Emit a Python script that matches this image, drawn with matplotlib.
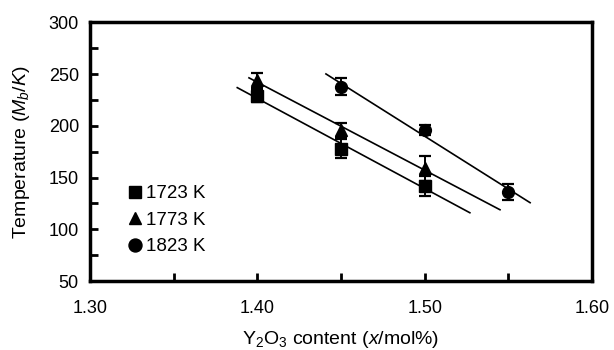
import numpy as np
import matplotlib
matplotlib.use('Agg')
import matplotlib.pyplot as plt
from matplotlib.ticker import MultipleLocator

plt.rcParams['font.family'] = ['Liberation Sans', 'DejaVu Sans']
plt.rcParams['mathtext.fontset'] = 'custom'
plt.rcParams['mathtext.rm'] = 'Liberation Sans'
plt.rcParams['mathtext.it'] = 'Liberation Sans:italic'

# data
labels = ['1723 K', '1773 K', '1823 K']
markers = ['s', '^', 'o']
x_1723 = [1.40, 1.45, 1.50]
y_1723 = [229, 178, 142]
e_1723 = [6, 9.5, 10]
x_1773 = [1.40, 1.45, 1.50]
y_1773 = [244, 196, 159]
e_1773 = [7, 7, 12]
x_1823 = [1.45, 1.50, 1.55]
y_1823 = [238, 196, 136]
e_1823 = [8.5, 5, 8]
# x extent of each fitted line
fit_range = [(1.388, 1.527), (1.395, 1.545), (1.441, 1.563)]

xs = [x_1723, x_1773, x_1823]
ys = [y_1723, y_1773, y_1823]
es = [e_1723, e_1773, e_1823]

fig = plt.figure(figsize=(6.14, 3.5), dpi=100)
ax = fig.add_axes([0.1466, 0.197, 0.8176, 0.739])

for i in range(3):
    ax.errorbar(xs[i], ys[i], yerr=es[i], fmt=markers[i], color='black',
                markersize=8.5, capsize=4, elinewidth=1.4, capthick=1.6,
                label=labels[i])
    k, c = np.polyfit(xs[i], ys[i], 1)
    xl = np.array(fit_range[i])
    ax.plot(xl, k * xl + c, '-k', linewidth=1.2)

ax.set_xlim(1.30, 1.60)
ax.set_ylim(50, 300)
ax.set_xticks([1.30, 1.40, 1.50, 1.60])
ax.set_xticklabels(['1.30', '1.40', '1.50', '1.60'])
ax.xaxis.set_minor_locator(MultipleLocator(0.05))
ax.yaxis.set_major_locator(MultipleLocator(50))
ax.yaxis.set_minor_locator(MultipleLocator(25))
ax.tick_params(which='both', direction='in', top=False, right=False,
               labelsize=13, width=2, length=6)
ax.tick_params(axis='y', pad=8)
ax.tick_params(axis='x', pad=14)
for s in ax.spines.values():
    s.set_linewidth(2.5)

ax.set_xlabel(r'Y$_2$O$_3$ content ($x$/mol%)', fontsize=14, labelpad=8)
ax.set_ylabel(r'Temperature ($M_b$/$K$)', fontsize=14, labelpad=12)

handles, lbls = ax.get_legend_handles_labels()
handles = [h[0] for h in handles]
leg = ax.legend(handles, lbls, loc='upper left', bbox_to_anchor=(0.07, 0.37),
                frameon=False, fontsize=13.5, handletextpad=0.1, handlelength=1.0,
                labelspacing=0.5, borderaxespad=0, borderpad=0,
                markerscale=1.1)

fig.savefig('out.png', dpi=100)
